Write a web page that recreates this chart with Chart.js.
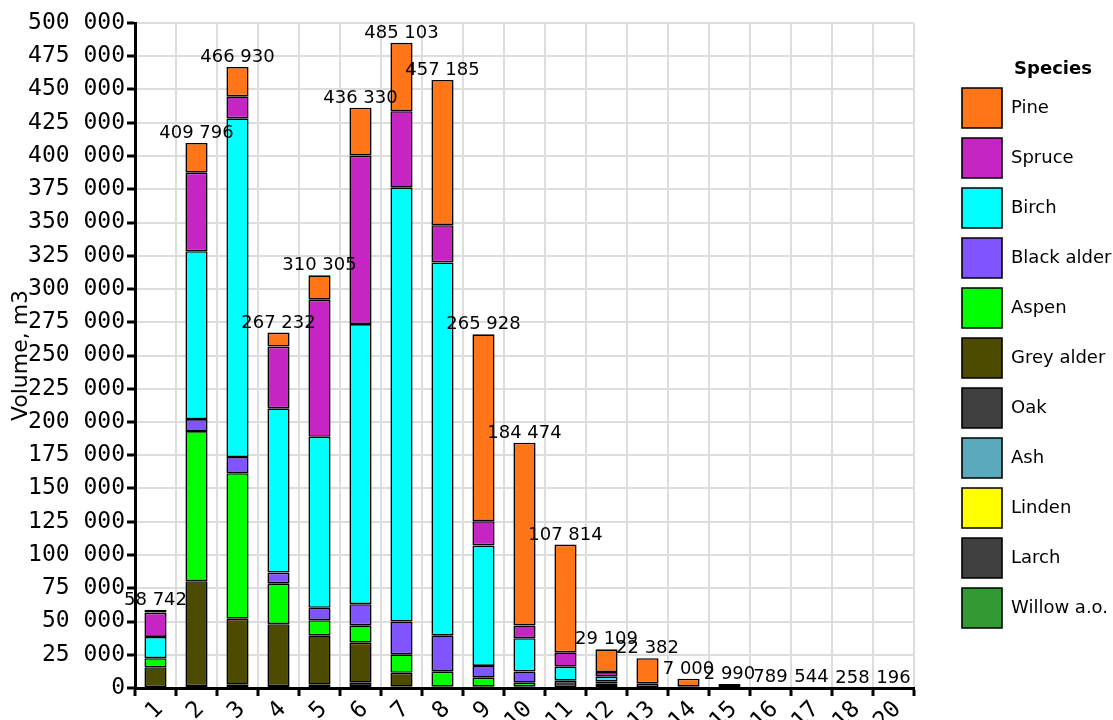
<!DOCTYPE html>
<html>
<head>
<meta charset="utf-8">
<script src="https://cdn.jsdelivr.net/npm/chart.js@4.4.1/dist/chart.umd.min.js"></script>
<style>
  html, body { margin: 0; padding: 0; background: #fff; overflow: hidden; }
  #wrap { width: 1113px; height: 720px; position: relative; }
</style>
</head>
<body>
<div id="wrap"><canvas id="chart"></canvas></div>
<script>
// categories (age classes) and stacked volumes per species, m3
const categories = ['1', '2', '3', '4', '5', '6', '7', '8', '9', '10', '11', '12', '13', '14', '15', '16', '17', '18', '20'];

const willow     = [0, 0, 2500, 0, 0, 0, 0, 0, 0, 0, 0, 0, 0, 0, 0, 0, 0, 0, 0];
const larch      = [0, 0, 0, 0, 0, 0, 0, 0, 0, 0, 0, 0, 0, 0, 0, 0, 0, 0, 0];
const linden     = [0, 0, 0, 0, 0, 0, 0, 0, 0, 0, 0, 0, 0, 0, 0, 0, 0, 0, 0];
const ash        = [0, 0, 0, 0, 0, 1500, 0, 0, 0, 0, 0, 0, 0, 0, 0, 0, 0, 0, 0];
const oak        = [0, 1500, 0, 1500, 2500, 2500, 1000, 0, 0, 0, 5500, 0, 0, 1000, 0, 0, 0, 0, 0];
const greyAlder  = [15600, 78800, 49600, 46500, 37100, 30100, 10400, 1000, 1000, 1000, 0, 1500, 0, 0, 0, 0, 0, 0, 0];
const aspen      = [6800, 112900, 109400, 30700, 11400, 13000, 13900, 11300, 6800, 3000, 0, 2000, 0, 0, 0, 0, 0, 0, 0];
const blackAlder = [0, 9000, 12200, 8100, 9300, 15900, 24700, 27300, 8800, 8500, 0, 1500, 0, 0, 0, 0, 0, 0, 0];
const birch      = [16000, 126200, 254600, 123500, 128600, 210600, 326200, 280400, 90600, 25000, 10500, 3500, 0, 0, 0, 0, 0, 0, 0];
const spruce     = [18300, 59100, 16600, 46400, 103100, 126700, 57500, 28000, 18200, 9500, 10800, 3500, 3500, 0, 0, 0, 0, 0, 0];
const pine       = [2042, 22296, 22030, 10532, 18305, 36030, 51403, 109185, 140528, 137474, 81014, 17109, 18882, 6000, 2990, 789, 544, 258, 196];

const fmt = v => String(Math.round(v)).replace(/\B(?=(\d{3})+(?!\d))/g, ' ');

Chart.defaults.font.family = 'DejaVu Sans';
Chart.defaults.color = '#000';

const series = [
  ['Willow a.o.', willow, '#339933'],
  ['Larch', larch, '#404040'],
  ['Linden', linden, '#ffff00'],
  ['Ash', ash, '#5aa9bd'],
  ['Oak', oak, '#404040'],
  ['Grey alder', greyAlder, '#4d4b00'],
  ['Aspen', aspen, '#00ff00'],
  ['Black alder', blackAlder, '#8055ff'],
  ['Birch', birch, '#00ffff'],
  ['Spruce', spruce, '#c724c4'],
  ['Pine', pine, '#ff7518']
];

// totals above each column
const totalLabels = {
  id: 'totalLabels',
  afterDatasetsDraw(chart) {
    const {ctx, scales: {x, y}} = chart;
    ctx.save();
    ctx.font = '18px "DejaVu Sans"';
    ctx.fillStyle = '#000';
    ctx.textAlign = 'center';
    ctx.textBaseline = 'alphabetic';
    categories.forEach((c, i) => {
      const total = series.reduce((s, d) => s + d[1][i], 0);
      ctx.fillText(fmt(total), x.getPixelForValue(i), y.getPixelForValue(total) - 5);
    });
    ctx.restore();
  }
};

// fixed legend width so the title sits like in the original
const legendWidth = {
  id: 'legendWidth',
  afterInit(chart) {
    const lg = chart.legend;
    const fit = lg.fit;
    lg.fit = function () { fit.call(this); this.width = 202; };
  }
};

new Chart(document.getElementById('chart'), {
  type: 'bar',
  data: {
    labels: categories,
    // zero parts are left out so they don't leave a border line
    datasets: series.map(([label, data, color]) => ({
      label,
      data: data.map(v => (v === 0 ? null : v)),
      backgroundColor: color,
      borderColor: '#000',
      borderWidth: 1.6,
      borderSkipped: false,
      categoryPercentage: 1,
      barPercentage: 0.54
    }))
  },
  options: {
    responsive: true,
    maintainAspectRatio: false,
    animation: false,
    layout: { padding: { top: 23, right: -41, left: 0, bottom: 0 } },
    plugins: {
      tooltip: { enabled: false },
      legend: {
        position: 'right',
        align: 'start',
        reverse: true,
        title: {
          display: true,
          text: 'Species',
          font: { size: 18, weight: 'bold', lineHeight: 1 },
          padding: { top: 37, bottom: 0 }
        },
        labels: {
          boxWidth: 40,
          boxHeight: 40,
          padding: 10,
          font: { size: 18 }
        }
      }
    },
    scales: {
      x: {
        stacked: true,
        grid: { color: '#dddddd', lineWidth: 2, tickColor: '#000', tickWidth: 3, tickLength: 8 },
        border: { color: '#000', width: 3 },
        ticks: {
          autoSkip: false,
          maxRotation: 45,
          minRotation: 45,
          labelOffset: 4,
          padding: 0,
          font: { family: 'DejaVu Sans Mono', size: 23 }
        },
        afterFit(s) { s.height = 32; }
      },
      y: {
        stacked: true,
        min: 0,
        max: 500000,
        grid: { color: '#dddddd', lineWidth: 2, tickColor: '#000', tickWidth: 3, tickLength: 8 },
        border: { color: '#000', width: 3 },
        ticks: {
          stepSize: 25000,
          padding: 2,
          font: { family: 'DejaVu Sans Mono', size: 23 },
          callback: v => fmt(v)
        },
        title: {
          display: true,
          text: 'Volume, m3',
          font: { size: 22 },
          padding: { top: 8, bottom: 0 }
        },
        afterFit(s) { s.width = 135; }
      },
      gap: {
        axis: 'y',
        type: 'linear',
        position: 'right',
        display: true,
        grid: { display: false },
        border: { display: false },
        ticks: { display: false },
        afterFit(s) { s.width = 38; }
      }
    }
  },
  plugins: [totalLabels, legendWidth]
});
</script>
</body>
</html>
